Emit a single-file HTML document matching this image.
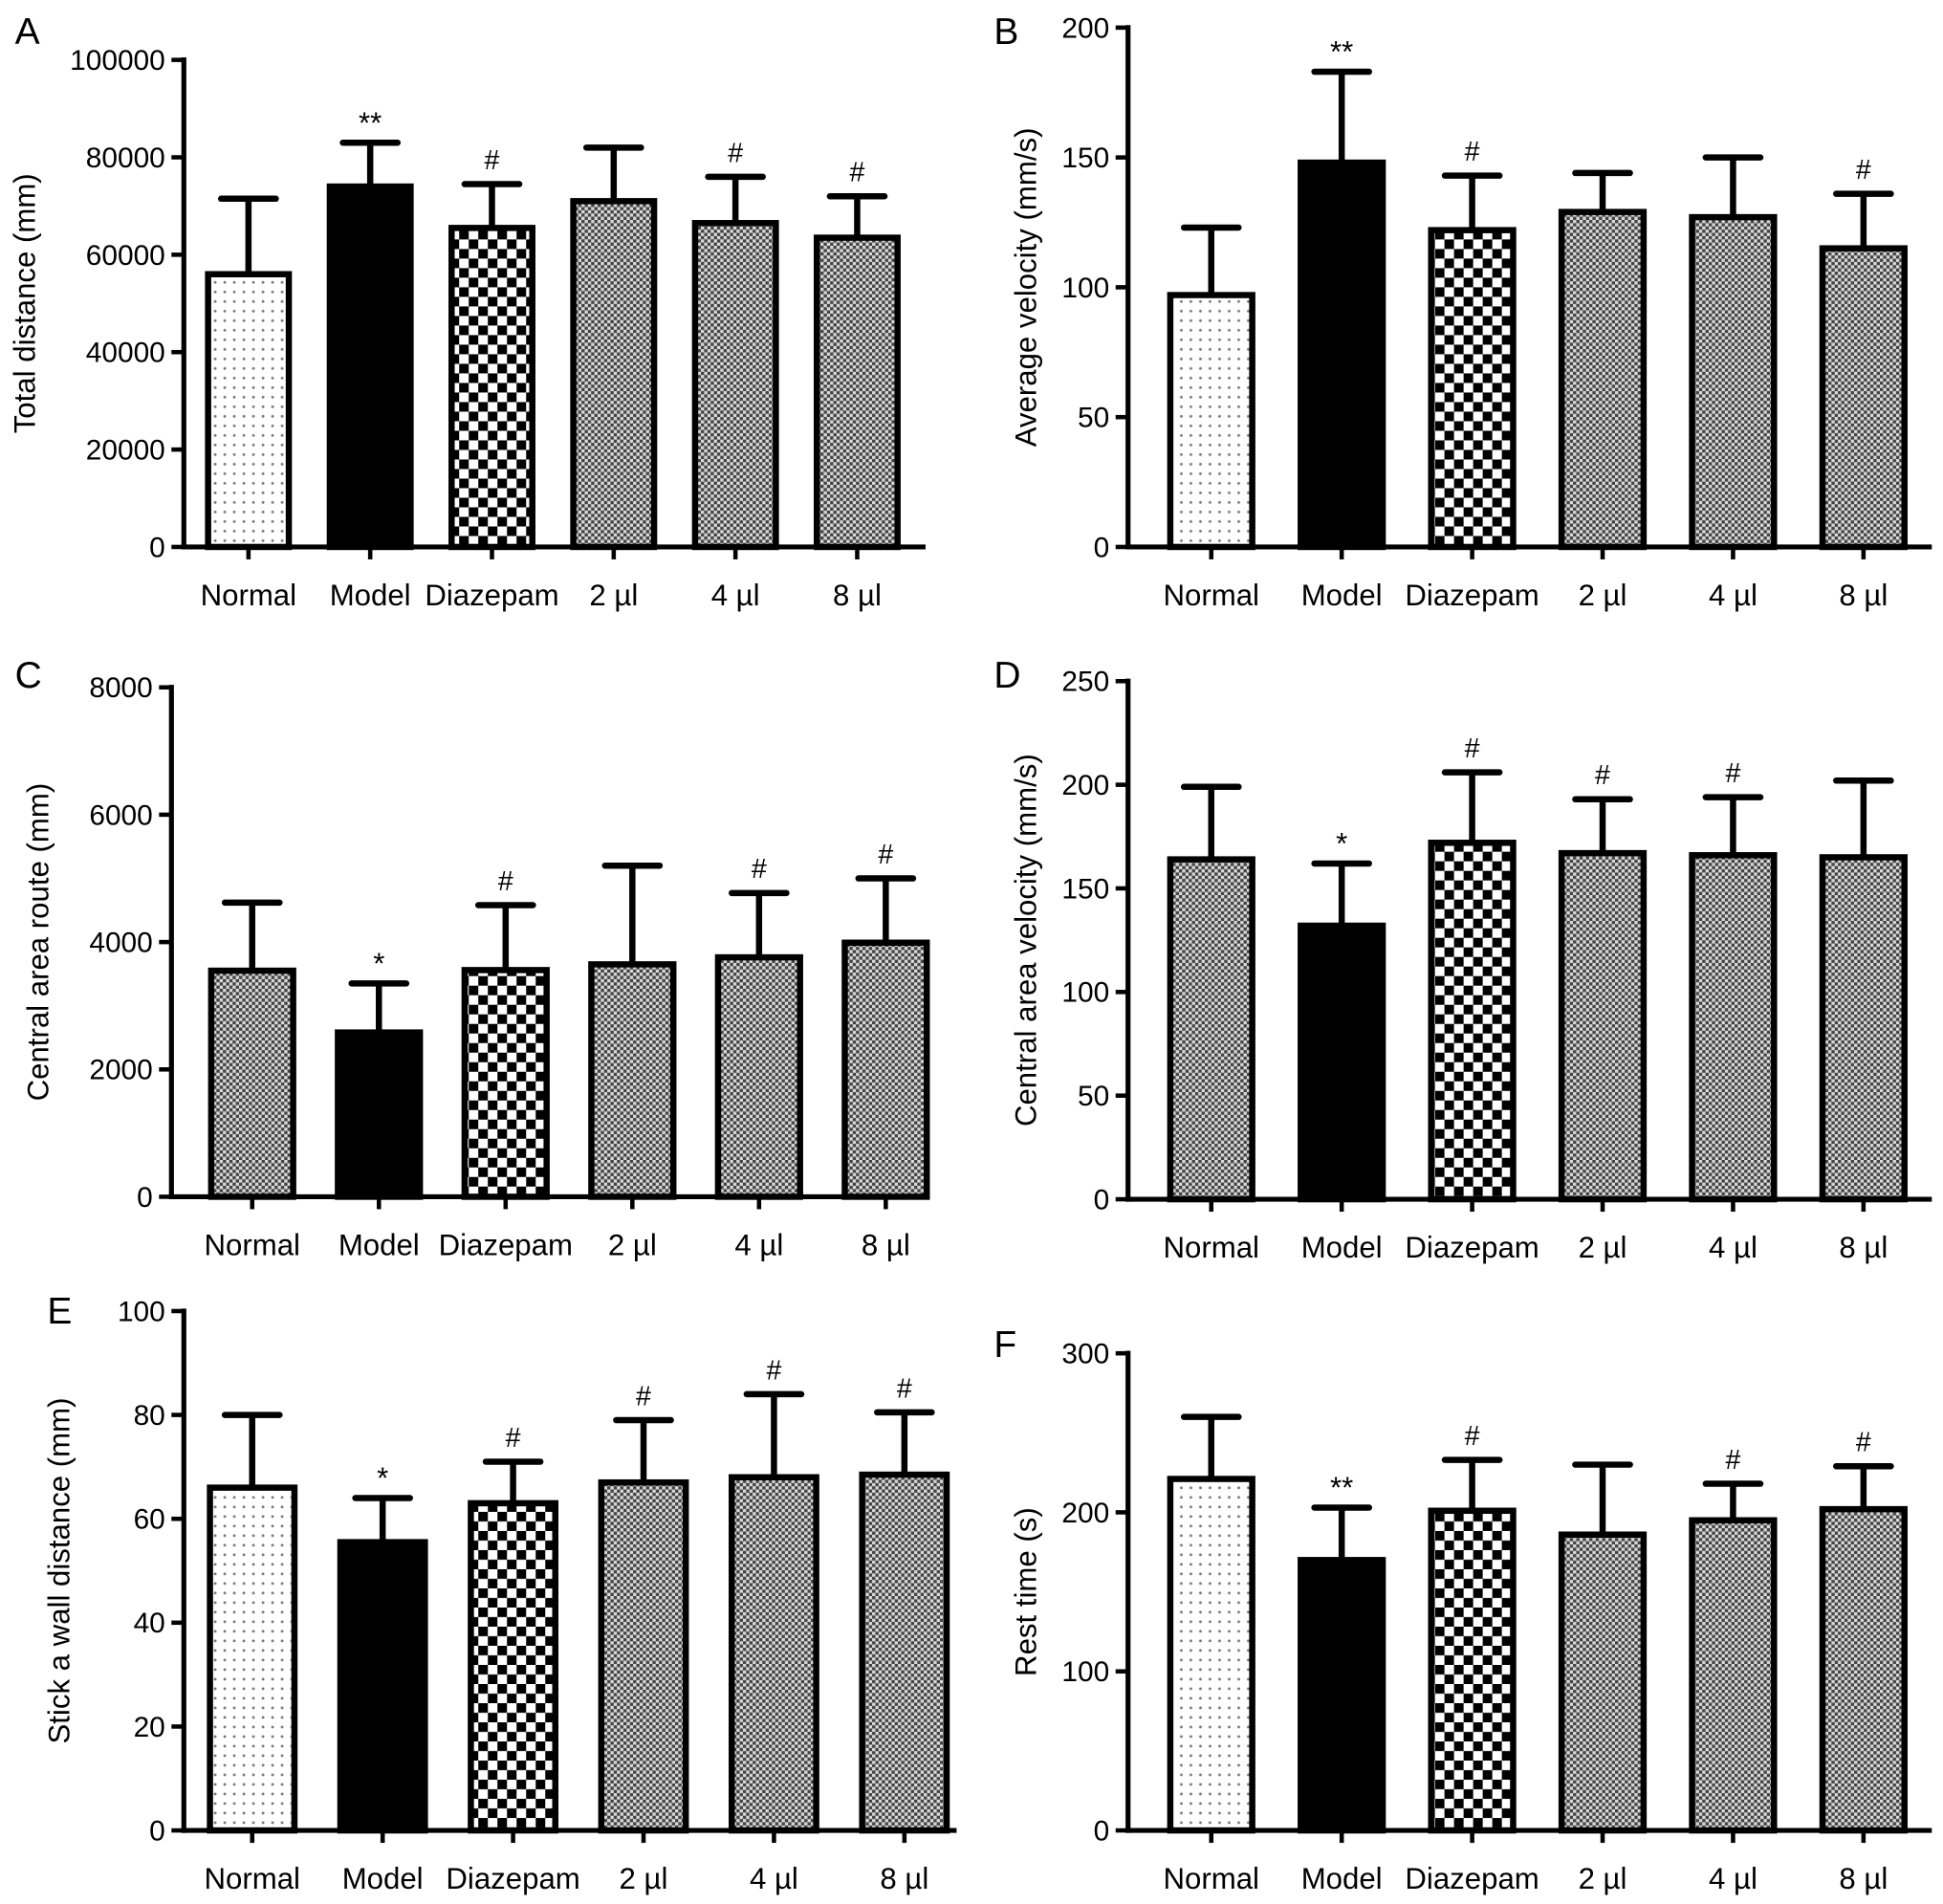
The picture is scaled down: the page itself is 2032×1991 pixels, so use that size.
<!DOCTYPE html>
<html><head><meta charset="utf-8"><style>
html,body{margin:0;padding:0;background:#fff}
svg{display:block}
text{font-family:"Liberation Sans",Arial,sans-serif;fill:#000}
</style></head><body>
<svg id="fig" width="2032" height="1991" viewBox="0 0 1564 1532" xmlns="http://www.w3.org/2000/svg">
<defs>
<pattern id="p-dots" patternUnits="userSpaceOnUse" width="7.7" height="7.7"><rect width="7.7" height="7.7" fill="#fff"/><circle cx="3.8" cy="3.8" r="1.1" fill="#777"/></pattern>
<pattern id="p-check" patternUnits="userSpaceOnUse" width="15.4" height="15.4"><rect width="15.4" height="15.4" fill="#fff"/><rect width="7.7" height="7.7" fill="#000"/><rect x="7.7" y="7.7" width="7.7" height="7.7" fill="#000"/></pattern>
<pattern id="p-fine" patternUnits="userSpaceOnUse" width="5.2" height="5.2"><rect width="5.2" height="5.2" fill="#d8d8d8"/><rect width="2.6" height="2.6" fill="#444"/><rect x="2.6" y="2.6" width="2.6" height="2.6" fill="#444"/></pattern>
</defs>
<g id="root"></g>
</svg>
<script>
const categories = ["Normal","Model","Diazepam","2 \u00b5l","4 \u00b5l","8 \u00b5l"];
const meansA = [56000,74000,65500,71000,66500,63500];
const errA   = [71500,83000,74500,82000,76000,72000];
const sigA   = ["","**","#","","#","#"];
const meansB = [97,148,122,129,127,115];
const errB   = [123,183,143,144,150,136];
const sigB   = ["","**","#","","","#"];
const meansC = [3550,2580,3560,3650,3760,3990];
const errC   = [4620,3350,4580,5200,4770,5000];
const sigC   = ["","*","#","","#","#"];
const meansD = [164,132,172,167,166,165];
const errD   = [199,162,206,193,194,202];
const sigD   = ["","*","#","#","#",""];
const meansE = [66,55.5,63,67,68,68.5];
const errE   = [80,64,71,79,84,80.5];
const sigE   = ["","*","#","#","#","#"];
const meansF = [221,170,201,186,195,202];
const errF   = [260,203,233,230,218,229];
const sigF   = ["","**","#","","#","#"];
const ticksA=[0,20000,40000,60000,80000,100000];
const ticksB=[0,50,100,150,200];
const ticksC=[0,2000,4000,6000,8000];
const ticksD=[0,50,100,150,200,250];
const ticksE=[0,20,40,60,80,100];
const ticksF=[0,100,200,300];

const NS="http://www.w3.org/2000/svg";
const root=document.getElementById('root');
function mk(tag,attrs,parent,txt){const e=document.createElementNS(NS,tag);for(const k in attrs)e.setAttribute(k,attrs[k]);if(txt!==undefined)e.textContent=txt;(parent||root).appendChild(e);return e;}

const panels=[
 {id:'a',letter:'A',lx:12,ly:35,ax:148,top:48,bot:440,xend:745,x0:200,dx:98,w:65,max:100000,ticks:ticksA,means:meansA,err:errA,sig:sigA,title:'Total distance (mm)',tx:28,fills:['p-dots','black','p-check','p-fine','p-fine','p-fine']},
 {id:'b',letter:'B',lx:800,ly:35,ax:908,top:22,bot:440,xend:1555,x0:975,dx:105,w:66,max:200,ticks:ticksB,means:meansB,err:errB,sig:sigB,title:'Average velocity (mm/s)',tx:834,fills:['p-dots','black','p-check','p-fine','p-fine','p-fine']},
 {id:'c',letter:'C',lx:12,ly:553,ax:138,top:553,bot:963,xend:745,x0:203,dx:102,w:66,max:8000,ticks:ticksC,means:meansC,err:errC,sig:sigC,title:'Central area route (mm)',tx:39,fills:['p-fine','black','p-check','p-fine','p-fine','p-fine']},
 {id:'d',letter:'D',lx:800,ly:553,ax:908,top:548,bot:965,xend:1555,x0:975,dx:105,w:66,max:250,ticks:ticksD,means:meansD,err:errD,sig:sigD,title:'Central area velocity (mm/s)',tx:834,fills:['p-fine','black','p-check','p-fine','p-fine','p-fine']},
 {id:'e',letter:'E',lx:38,ly:1065,ax:148,top:1055,bot:1473,xend:770,x0:203,dx:105,w:68,max:100,ticks:ticksE,means:meansE,err:errE,sig:sigE,title:'Stick a wall distance (mm)',tx:56,fills:['p-dots','black','p-check','p-fine','p-fine','p-fine']},
 {id:'f',letter:'F',lx:800,ly:1092,ax:908,top:1089,bot:1473,xend:1555,x0:975,dx:105,w:66,max:300,ticks:ticksF,means:meansF,err:errF,sig:sigF,title:'Rest time (s)',tx:834,fills:['p-dots','black','p-check','p-fine','p-fine','p-fine']}
];

panels.forEach(p=>{
 const g=mk('g',{});
 
 
 const y=v=>p.bot-(v/p.max)*(p.bot-p.top);
 const x=i=>p.x0+i*p.dx;
 const L=mk('text',{x:p.lx,y:p.ly,'font-size':30},g,p.letter);
 
 
 const cy=(p.top+p.bot)/2;
 const T=mk('text',{x:p.tx,y:cy,'font-size':24,'text-anchor':'middle',transform:`rotate(-90 ${p.tx} ${cy})`},g,p.title);
 
 
 p.ticks.forEach(t=>{
  mk('line',{x1:p.ax-10,x2:p.ax,y1:y(t),y2:y(t),stroke:'#000','stroke-width':3.5},g);
  const tl=mk('text',{x:p.ax-15,y:y(t)+8,'font-size':23,'text-anchor':'end'},g,String(t));
  
  
 });
 p.means.forEach((m,i)=>{
  const cx=x(i);
  mk('line',{x1:cx,x2:cx,y1:y(m),y2:y(p.err[i]),stroke:'#000','stroke-width':5},g);
  mk('line',{x1:cx-22,x2:cx+22,y1:y(p.err[i]),y2:y(p.err[i]),stroke:'#000','stroke-width':5,'stroke-linecap':'round'},g);
  const r=mk('rect',{x:cx-p.w/2,y:y(m),width:p.w,height:p.bot-y(m),fill:p.fills[i]==='black'?'#000':`url(#${p.fills[i]})`,stroke:'#000','stroke-width':5},g);
  
  
  if(p.sig[i]){
   const s=mk('text',{x:cx,y:y(p.err[i])-(p.sig[i]==='#'?12:8),'font-size':p.sig[i]==='#'?22:24,'text-anchor':'middle'},g,p.sig[i]);
   
   
  }
  mk('line',{x1:cx,x2:cx,y1:p.bot,y2:p.bot+10,stroke:'#000','stroke-width':3.5},g);
  const cl=mk('text',{x:cx,y:p.bot+47,'font-size':24,'text-anchor':'middle'},g,categories[i]);
  
  
 });
 const ya=mk('line',{x1:p.ax,x2:p.ax,y1:p.top-2,y2:p.bot+2,stroke:'#000','stroke-width':4},g);
 
 
 const xa=mk('line',{x1:p.ax-2,x2:p.xend,y1:p.bot,y2:p.bot,stroke:'#000','stroke-width':4},g);
 
 
});
</script>
</body></html>
